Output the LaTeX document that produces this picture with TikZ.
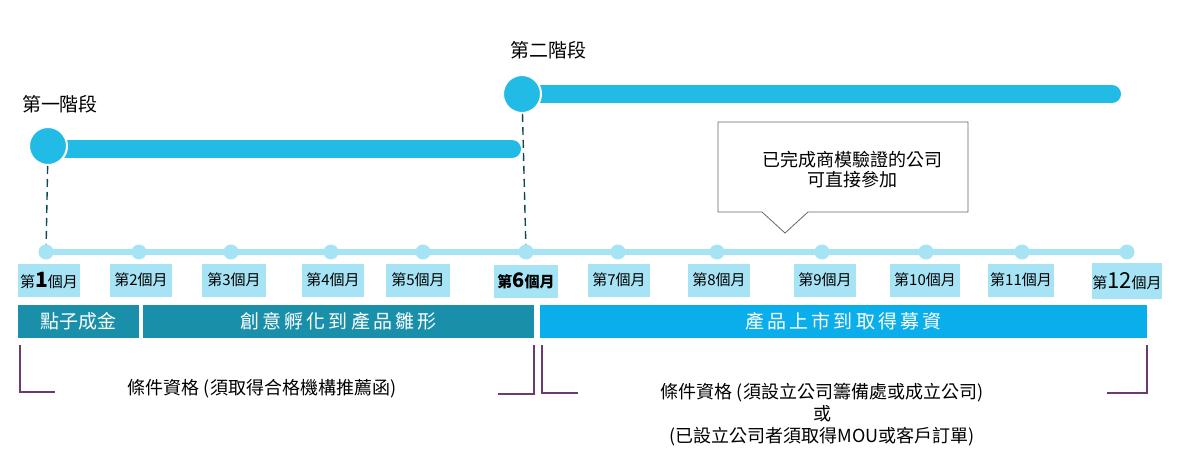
\documentclass[tikz,border=0pt]{standalone}
\usepackage{fontspec}
\setmainfont{Noto Sans CJK TC}
\begin{document}
\tikzset{
 month/.style={fill=monthbg, minimum height=33pt, font=\fontsize{15}{15}\selectfont, inner sep=0pt},
 phase/.style={text=white, minimum height=33pt, font=\fontsize{19}{19}\selectfont, inner sep=0pt},
 dot/.style={circle, fill=linebg, minimum size=15pt, inner sep=0pt},
 brk/.style={draw=brkc, line width=1.3pt},
 note/.style={font=\fontsize{18}{20}\selectfont, align=center}
}
\definecolor{monthbg}{HTML}{A6E3F5}
\definecolor{linebg}{HTML}{A6E3F5}
\definecolor{stage}{HTML}{22BBE6}
\definecolor{tealc}{HTML}{1A8FAA}
\definecolor{bluec}{HTML}{0AAEEA}
\definecolor{brkc}{HTML}{6B3A6E}
\begin{tikzpicture}[x=1pt,y=-1pt]
\useasboundingbox (0,0) rectangle (1187,468);
% timeline
\draw[linebg, line width=6pt] (46,252) -- (1127,252);
\foreach \x [count=\i] in {46,139,231,331,423,526,618,717,822,926,1022,1127}
  \node[dot] (d\i) at (\x,252) {};
% months
\node[month, minimum width=62pt] (m1) at (49,280) {第\textbf{\fontsize{21}{21}\selectfont 1}個月};
\node[month, minimum width=62pt] (m2) at (141,280) {第2個月};
\node[month, minimum width=64pt] (m3) at (234,280) {第3個月};
\node[month, minimum width=62pt] (m4) at (333,280) {第4個月};
\node[month, minimum width=64pt] (m5) at (418,280) {第5個月};
\node[month, minimum width=64pt] (m6) at (526,281) {\textbf{第{\fontsize{20}{20}\selectfont 6}個月}};
\node[month, minimum width=62pt] (m7) at (619,280) {第7個月};
\node[month, minimum width=62pt] (m8) at (719,280) {第8個月};
\node[month, minimum width=62pt] (m9) at (825,280) {第9個月};
\node[month, minimum width=70pt] (m10) at (925,280) {第10個月};
\node[month, minimum width=66pt] (m11) at (1021,280) {第11個月};
\node[month, minimum width=66pt, minimum height=36pt] (m12) at (1127,281) {第{\fontsize{22}{22}\selectfont 12}個月};
% phases
\node[phase, fill=tealc, minimum width=121pt] (p1) at (78.5,321.5) {點子成金};
\node[phase, fill=tealc, minimum width=391pt] (p2) at (338.5,321.5) {創\,意\,孵\,化\,到\,產\,品\,雛\,形};
\node[phase, fill=bluec, minimum width=607pt] (p3) at (843.5,321.5) {產\,品\,上\,市\,到\,取\,得\,募\,資};
% stages
\draw[stage, line width=18pt, line cap=round] (48,149) -- (512,149);
\draw[stage, line width=18pt, line cap=round] (522,94) -- (1112,94);
\node[circle, fill=stage, draw=white, line width=2pt, minimum size=38pt] (s1) at (48,146) {};
\node[circle, fill=stage, draw=white, line width=2pt, minimum size=38pt] (s2) at (522,94) {};
\draw[dash pattern=on 8pt off 5pt, line width=1.4pt, draw=tealc!50!black] (s1) -- (d1);
\draw[dash pattern=on 8pt off 5pt, line width=1.4pt, draw=tealc!50!black] (s2) -- (d6);
\node[font=\fontsize{19}{19}\selectfont] (t1) at (60,104) {第一階段};
\node[font=\fontsize{19}{19}\selectfont] (t2) at (548,50) {第二階段};
% callout
\draw[fill=white, draw=gray!80!black, line width=0.8pt] (718,122) -- (968,122) -- (968,212) -- (808,212) -- (785,233) -- (762,212) -- (718,212) -- cycle;
\node[note] (c) at (852,170) {已完成商模驗證的公司\\可直接參加};
% brackets
\draw[brk] (20,345) -- (20,392) -- (55,392);
\draw[brk] (534,345) -- (534,394) -- (498,394);
\draw[brk] (542,345) -- (542,393) -- (578,393);
\draw[brk] (1147,345) -- (1147,393) -- (1107,393);
\node[note] (q1) at (262,389) {條件資格 (須取得合格機構推薦函)};
\node[note, font=\fontsize{18}{22}\selectfont] (q2) at (822,415) {條件資格 (須設立公司籌備處或成立公司)\\或\\(已設立公司者須取得MOU或客戶訂單)};
\end{tikzpicture}
\end{document}
